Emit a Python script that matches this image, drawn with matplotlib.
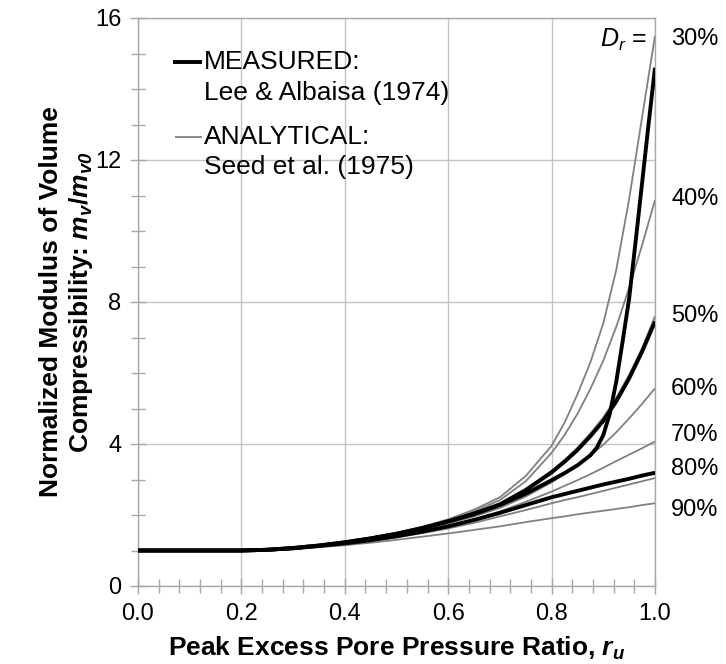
import matplotlib
matplotlib.use("Agg")
import matplotlib.pyplot as plt
from matplotlib.ticker import MultipleLocator, FormatStrFormatter
import matplotlib.transforms as mtransforms

plt.rcParams['font.family'] = ['Liberation Sans', 'DejaVu Sans']
plt.rcParams['mathtext.fontset'] = 'custom'
plt.rcParams['mathtext.rm'] = 'Liberation Sans'
plt.rcParams['mathtext.it'] = 'Liberation Sans:italic'
plt.rcParams['mathtext.bf'] = 'Liberation Sans:bold'
plt.rcParams['mathtext.bfit'] = 'Liberation Sans:bold:italic'

# pore pressure ratio grid
ru = [0.0, 0.1, 0.2, 0.25, 0.3, 0.35, 0.4, 0.45, 0.5, 0.55, 0.6, 0.65, 0.7, 0.75,
      0.8, 0.825, 0.85, 0.875, 0.9, 0.925, 0.95, 0.975, 1.0]

# analytical curves, Seed et al. (1975), one per relative density
dr_labels = ['30%', '40%', '50%', '60%', '70%', '80%', '90%']
seed_30 = [1.0, 1.0, 1.0, 1.02, 1.08, 1.15, 1.25, 1.36, 1.5, 1.67, 1.88, 2.15, 2.5, 3.1,
           3.95, 4.6, 5.4, 6.3, 7.4, 8.9, 10.9, 13.2, 15.5]
seed_40 = [1.0, 1.0, 1.0, 1.02, 1.08, 1.15, 1.24, 1.35, 1.48, 1.65, 1.85, 2.1, 2.42, 2.95,
           3.75, 4.25, 4.85, 5.55, 6.35, 7.3, 8.4, 9.6, 10.87]
seed_50 = [1.0, 1.0, 1.0, 1.02, 1.07, 1.14, 1.23, 1.34, 1.46, 1.63, 1.82, 2.04, 2.32, 2.74,
           3.25, 3.55, 3.9, 4.3, 4.75, 5.3, 5.95, 6.7, 7.6]
seed_60 = [1.0, 1.0, 1.0, 1.02, 1.06, 1.13, 1.21, 1.31, 1.43, 1.58, 1.76, 1.96, 2.2, 2.52,
           2.92, 3.15, 3.4, 3.68, 3.98, 4.33, 4.72, 5.13, 5.57]
seed_70 = [1.0, 1.0, 1.0, 1.02, 1.06, 1.12, 1.2, 1.29, 1.4, 1.54, 1.7, 1.88, 2.1, 2.37,
           2.66, 2.82, 2.98, 3.15, 3.33, 3.52, 3.7, 3.88, 4.07]
seed_80 = [1.0, 1.0, 1.0, 1.01, 1.05, 1.11, 1.19, 1.27, 1.37, 1.49, 1.62, 1.78, 1.96, 2.14,
           2.33, 2.42, 2.5, 2.59, 2.68, 2.77, 2.86, 2.95, 3.04]
seed_90 = [1.0, 1.0, 1.0, 1.01, 1.04, 1.09, 1.15, 1.22, 1.3, 1.39, 1.48, 1.58, 1.68, 1.8,
           1.91, 1.96, 2.02, 2.07, 2.12, 2.17, 2.22, 2.28, 2.33]
seed_curves = [seed_30, seed_40, seed_50, seed_60, seed_70, seed_80, seed_90]

# measured curves, Lee & Albaisa (1974)
ru_loose = [0.0, 0.1, 0.2, 0.25, 0.3, 0.35, 0.4, 0.45, 0.5, 0.55, 0.6, 0.65, 0.7, 0.75,
            0.8, 0.825, 0.85, 0.875, 0.8875, 0.9, 0.9125, 0.925, 0.9375, 0.95, 0.9625,
            0.975, 0.9875, 1.0]
lee_loose = [1.0, 1.0, 1.0, 1.02, 1.07, 1.14, 1.23, 1.34, 1.47, 1.63, 1.82, 2.02, 2.28, 2.6,
             2.98, 3.18, 3.4, 3.68, 3.9, 4.25, 4.85, 5.75, 6.9, 8.1, 9.7,
             11.35, 13.0, 14.6]
lee_medium = [1.0, 1.0, 1.0, 1.02, 1.07, 1.14, 1.23, 1.34, 1.47, 1.63, 1.82, 2.04, 2.3, 2.7,
              3.2, 3.5, 3.83, 4.22, 4.65, 5.2, 5.85, 6.6, 7.45]
lee_dense = [1.0, 1.0, 1.0, 1.02, 1.06, 1.13, 1.2, 1.29, 1.4, 1.53, 1.68, 1.86, 2.06, 2.28,
             2.5, 2.59, 2.68, 2.77, 2.86, 2.94, 3.02, 3.11, 3.19]

# where the Dr labels sit on the right margin
dr_label_y = [15.4, 10.9, 7.6, 5.55, 4.25, 3.3, 2.15]

fig = plt.figure(figsize=(7.26, 6.64), dpi=100)
ax = fig.add_axes([138 / 726, 78 / 664, 517 / 726, 568 / 664])

for vals in seed_curves:
    ax.plot(ru, vals, color='#808080', lw=1.3, solid_capstyle='butt', zorder=3)
ax.plot(ru_loose, lee_loose, color='black', lw=2.8, solid_capstyle='butt', zorder=4)
ax.plot(ru, lee_medium, color='black', lw=2.8, solid_capstyle='butt', zorder=4)
ax.plot(ru, lee_dense, color='black', lw=2.8, solid_capstyle='butt', zorder=4)

ax.set_xlim(0, 1.0)
ax.set_ylim(0, 16)
ax.xaxis.set_major_locator(MultipleLocator(0.2))
ax.xaxis.set_minor_locator(MultipleLocator(0.04))
ax.yaxis.set_major_locator(MultipleLocator(4))
ax.yaxis.set_minor_locator(MultipleLocator(1))
ax.xaxis.set_major_formatter(FormatStrFormatter('%.1f'))
ax.grid(True, which='major', color='#c4c4c4', lw=1.0, zorder=0)
for sp in ax.spines.values():
    sp.set_color('#a8a8a8')
    sp.set_linewidth(1.0)
ax.tick_params(which='major', direction='inout', length=12, width=1.0,
               color='#a8a8a8', labelsize=17)
ax.tick_params(which='minor', direction='inout', length=10, width=1.0,
               color='#a8a8a8')
ax.tick_params(axis='x', which='major', pad=6)
ax.tick_params(axis='y', which='major', pad=6)

ax.set_xlabel(r'Peak Excess Pore Pressure Ratio, $\mathbfit{r}_\mathbfit{u}$',
              fontsize=19, fontweight='bold', labelpad=7)
fig.text(67 / 726, (664 - 302) / 664,
         'Normalized Modulus of Volume\n'
         r'Compressibility: $\mathbfit{m}_\mathbfit{v}\mathbf{/}\mathbfit{m}_\mathbfit{v0}$',
         rotation=90, ha='center', va='center', fontsize=19, fontweight='bold',
         multialignment='center', linespacing=1.15)

# legend drawn by hand so the handle sits on the first line of each entry
ax.plot([0.068, 0.124], [0.923, 0.923], transform=ax.transAxes, color='black',
        lw=2.8, solid_capstyle='butt')
ax.plot([0.071, 0.124], [0.790, 0.790], transform=ax.transAxes, color='#808080',
        lw=1.3, solid_capstyle='butt')
ax.text(0.128, 0.923, 'MEASURED:', transform=ax.transAxes, fontsize=19,
        va='center', ha='left')
ax.text(0.128, 0.868, 'Lee & Albaisa (1974)', transform=ax.transAxes,
        fontsize=19, va='center', ha='left')
ax.text(0.128, 0.790, 'ANALYTICAL:', transform=ax.transAxes, fontsize=19,
        va='center', ha='left')
ax.text(0.128, 0.738, 'Seed et al. (1975)', transform=ax.transAxes,
        fontsize=19, va='center', ha='left')

trans = mtransforms.blended_transform_factory(ax.transAxes, ax.transData)
ax.text(0.985, 15.38, r'$D_r$ =', transform=trans, fontsize=18, ha='right',
        va='center')
for lab, yv in zip(dr_labels, dr_label_y):
    ax.text(1.031, yv, lab, transform=trans, fontsize=17, ha='left',
            va='center', clip_on=False)

fig.savefig('out.png', dpi=100)
